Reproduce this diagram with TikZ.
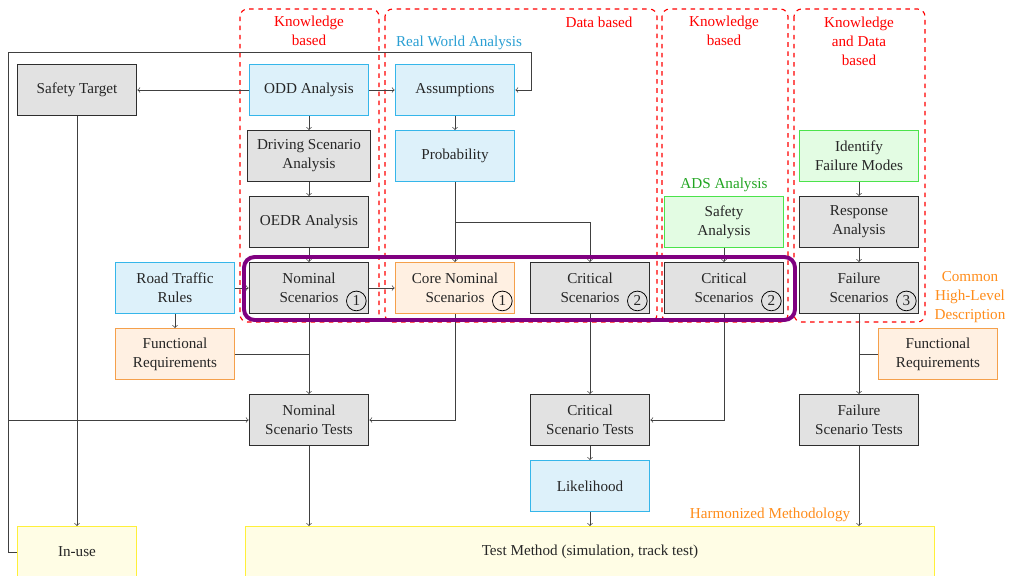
\documentclass[tikz,border=0pt]{standalone}
\usepackage{fontspec}
\setmainfont{Liberation Serif}
\usetikzlibrary{calc}

\definecolor{boxgray}{HTML}{E2E2E2}
\definecolor{boxline}{HTML}{2E2E2E}
\definecolor{bluefill}{HTML}{DDF1FA}
\definecolor{blueline}{HTML}{35B6EA}
\definecolor{orangefill}{HTML}{FFF0E2}
\definecolor{orangeline}{HTML}{F5A04B}
\definecolor{greenfill}{HTML}{E3FCE3}
\definecolor{greenline}{HTML}{4BE34B}
\definecolor{yellowfill}{HTML}{FFFDE5}
\definecolor{yellowline}{HTML}{FFF03A}
\definecolor{groupviolet}{HTML}{800080}
\definecolor{rwablue}{HTML}{2A9FD3}
\definecolor{adsgreen}{HTML}{22A522}
\definecolor{hmorange}{HTML}{FF8C1A}

\begin{document}
\begin{tikzpicture}[x=0.66pt,y=-0.66pt,
  every node/.style={font=\fontsize{10}{12.6}\selectfont},
  base/.style={rectangle, line width=0.65pt, minimum width=79pt, minimum height=33.6pt,
    align=center, inner xsep=6pt, text=black!85},
  graybox/.style={base, fill=boxgray, draw=boxline},
  bluebox/.style={base, fill=bluefill, draw=blueline},
  orangebox/.style={base, fill=orangefill, draw=orangeline},
  greenbox/.style={base, fill=greenfill, draw=greenline},
  yellowbox/.style={base, fill=yellowfill, draw=yellowline},
  region/.style={draw=red, dashed, rounded corners=5pt, line width=0.75pt},
  regionlabel/.style={text=red, align=center},
  conn/.style={draw=black!75, line width=0.45pt},
  arr/.style={conn, ->},
  num/.style={circle, draw=black, line width=0.5pt, inner sep=0pt, minimum size=13pt, text=black!85},
  group/.style={draw=groupviolet, line width=2.6pt, rounded corners=7pt}
]
\useasboundingbox (0,0) rectangle (1015,576);

% method regions
\draw[region] (240,9) rectangle (379,322);
\draw[region] (385,9) rectangle (657,322);
\draw[region] (662,9) rectangle (788,322);
\draw[region] (794,9) rectangle (925,322);

\node[regionlabel] (lk1) at (309,31) {Knowledge\\based};
\node[regionlabel] (ld) at (599,22) {Data based};
\node[regionlabel] (lk2) at (724,31) {Knowledge\\based};
\node[regionlabel] (lkd) at (859,41) {Knowledge\\and Data\\based};

% boxes
\node[graybox] (st) at (77,90) {Safety Target};
\node[bluebox] (odd) at (309,90) {ODD Analysis};
\node[bluebox] (asm) at (455,90) {Assumptions};
\node[graybox] (dsa) at (309,156) {Driving Scenario\\Analysis};
\node[bluebox] (prob) at (455,156) {Probability};
\node[graybox] (oedr) at (309,222) {OEDR Analysis};
\node[greenbox] (ifm) at (859,156) {Identify\\Failure Modes};
\node[greenbox] (sa) at (724,222) {Safety\\Analysis};
\node[graybox] (ra) at (859,222) {Response\\Analysis};
\node[bluebox] (rtr) at (175,288) {Road Traffic\\Rules};
\node[graybox] (ns) at (309,288) {Nominal\\Scenarios};
\node[orangebox] (cns) at (455,288) {Core Nominal\\Scenarios};
\node[graybox] (cs1) at (590,288) {Critical\\Scenarios};
\node[graybox] (cs2) at (724,288) {Critical\\Scenarios};
\node[graybox] (fs) at (859,288) {Failure\\Scenarios};
\node[orangebox] (fr1) at (175,354) {Functional\\Requirements};
\node[orangebox] (fr2) at (938,354) {Functional\\Requirements};
\node[graybox] (nst) at (309,420) {Nominal\\Scenario Tests};
\node[graybox] (cst) at (590,420) {Critical\\Scenario Tests};
\node[graybox] (fst) at (859,420) {Failure\\Scenario Tests};
\node[bluebox] (lik) at (590,486) {Likelihood};
\node[yellowbox] (inuse) at (77,552) {In-use};
\node[yellowbox, minimum width=455pt] (tm) at (590,552) {Test Method (simulation, track test)};

% scenario class markers
\node[num] (n1) at ($(ns.south east)+(-13,-13)$) {1};
\node[num] (n2) at ($(cns.south east)+(-13,-13)$) {1};
\node[num] (n3) at ($(cs1.south east)+(-13,-13)$) {2};
\node[num] (n4) at ($(cs2.south east)+(-13,-13)$) {2};
\node[num] (n5) at ($(fs.south east)+(-13,-13)$) {3};

% headings
\node[text=rwablue] (rwa) at (459,43) {Real World Analysis};
\node[text=adsgreen] (ads) at (724,185) {ADS Analysis};
\node[text=hmorange, align=center] (chl) at (970,297) {Common\\High-Level\\Description};
\node[text=hmorange] (hm) at (770,515) {Harmonized Methodology};

% connectors
\coordinate (lt) at (8,52);
\coordinate (rt) at (531,52);
\coordinate (pj) at (455,222);

\draw[arr] (odd) -- (st);
\draw[arr] (odd) -- (asm);
\draw[arr] (odd) -- (dsa);
\draw[arr] (dsa) -- (oedr);
\draw[arr] (oedr) -- (ns);
\draw[arr] (asm) -- (prob);
\draw[arr] (prob) -- (cns);
\draw[arr] (pj) -| (cs1.north);
\draw[arr] (rtr) -- (ns);
\draw[arr] (rtr) -- (fr1);
\draw[arr] (ns) -- (cns);
\draw[arr] (ns) -- (nst);
\draw[conn] (fr1.east) -- (fr1.east -| ns.south);
\draw[arr] (cns.south) |- (nst.east);
\draw[arr] (sa) -- (cs2);
\draw[arr] (cs1) -- (cst);
\draw[arr] (cs2.south) |- (cst.east);
\draw[arr] (cst) -- (lik);
\draw[arr] (lik) -- (lik.south |- tm.north);
\draw[arr] (nst) -- (nst.south |- tm.north);
\draw[arr] (ifm) -- (ra);
\draw[arr] (ra) -- (fs);
\draw[arr] (fs) -- (fst);
\draw[conn] (fr2.west) -- (fr2.west -| fs.south);
\draw[arr] (fst) -- (fst.south |- tm.north);
\draw[arr] (st) -- (inuse);
\draw[arr] (inuse.west) -| (lt) -- (rt) |- (asm.east);
\draw[arr] (lt |- nst.west) -- (nst.west);

% common high-level description group
\draw[group] (244,257) rectangle (795,320);
\end{tikzpicture}
\end{document}
